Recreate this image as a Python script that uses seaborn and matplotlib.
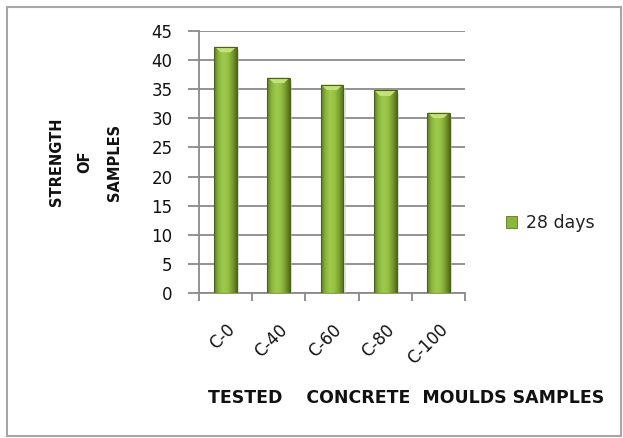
import numpy as np
import pandas as pd
import matplotlib
matplotlib.use("Agg")
import matplotlib.pyplot as plt
import seaborn as sns
from matplotlib.colors import LinearSegmentedColormap
from matplotlib.patches import Rectangle, Polygon

# Compressive strength of concrete mould samples at 28 days
samples = ["C-0", "C-40", "C-60", "C-80", "C-100"]
strength_28 = [42.3, 37.0, 35.8, 34.8, 31.0]
series_name = "28 days"
y_ticks = list(range(0, 50, 5))

sns.set_theme(style="white")
plt.rcParams["font.family"] = ["DejaVu Sans"]

W, H = 623, 438
fig = plt.figure(figsize=(W / 100, H / 100), dpi=100)
ax = fig.add_axes([199 / W, 145 / H, 266 / W, 262 / H])

df = pd.DataFrame({"sample": samples, "strength": strength_28})
sns.barplot(data=df, x="sample", y="strength", color="#8db43e", width=0.43,
            ax=ax, edgecolor="none", linewidth=0, zorder=3)

# cylinder-like shading across each bar
shade = LinearSegmentedColormap.from_list(
    "bar_shade", ["#5b7a22", "#8ab53c", "#9fcb4b", "#96c245", "#7a9e30", "#4f6b1b"])
grad = np.linspace(0, 1, 256).reshape(1, -1)
for p in list(ax.patches):
    x0, y0, w, h = p.get_x(), p.get_y(), p.get_width(), p.get_height()
    im = ax.imshow(grad, extent=[x0, x0 + w, y0, y0 + h], aspect="auto",
                   cmap=shade, zorder=3.1, interpolation="bilinear")
    im.set_clip_path(p)
    # soft shadow to the right
    ax.add_patch(Rectangle((x0 + w, y0), 0.04, h - 0.6, facecolor="#c8c8c8",
                           edgecolor="none", alpha=0.5, zorder=2.9))
    # bevelled top highlight
    ax.add_patch(Polygon([[x0 + 0.01, y0 + h], [x0 + w - 0.01, y0 + h],
                          [x0 + w * 0.72, y0 + h - 0.95], [x0 + w * 0.28, y0 + h - 0.95]],
                         closed=True, facecolor="#c4e27a", edgecolor="none", zorder=3.2))
    ax.add_patch(Rectangle((x0, y0), w, h, fill=False, edgecolor="#4a6318",
                           linewidth=0.8, zorder=3.3))

grid_c = "#8a8a8a"
ax.set_xlim(-0.5, len(samples) - 0.5)
ax.set_ylim(0, 45)
ax.set_yticks(y_ticks)
ax.set_yticklabels([str(t) for t in y_ticks], fontsize=12, color="#111111")
ax.yaxis.grid(True, color=grid_c, linewidth=1.3, zorder=1)
ax.set_axisbelow(True)

# ticks on category boundaries, labels at category centres
ax.set_xticks(np.arange(-0.5, len(samples), 1.0))
ax.set_xticklabels([""] * (len(samples) + 1))
ax.set_xticks(range(len(samples)), minor=True)
ax.set_xticklabels(samples, minor=True, rotation=45, ha="right", va="top",
                   rotation_mode="anchor", fontsize=12, color="#111111")
ax.tick_params(axis="x", which="major", direction="out", length=6, width=1.3,
               color=grid_c, bottom=True)
ax.tick_params(axis="x", which="minor", length=0, pad=20, bottom=True)
ax.tick_params(axis="y", direction="out", length=8, width=1.3, color=grid_c,
               pad=11, left=True)
for lbl in ax.get_xticklabels(minor=True):
    lbl.set_x(lbl.get_position()[0] - 0.14)

for s in ["top", "right"]:
    ax.spines[s].set_visible(False)
for s in ["left", "bottom"]:
    ax.spines[s].set_color(grid_c)
    ax.spines[s].set_linewidth(1.3)
ax.set_xlabel("")
ax.set_ylabel("")

# axis titles
for txt, xc in [("STRENGTH", 57), ("OF", 85), ("SAMPLES", 115)]:
    fig.text(xc / W, 1 - 162 / H, txt, rotation=90, ha="center", va="center",
             fontsize=10.5, fontweight="bold", color="#111111")
fig.text(406 / W, 1 - 398 / H, "TESTED    CONCRETE  MOULDS SAMPLES", ha="center",
         va="center", fontsize=12.5, fontweight="bold", color="#111111")

# legend
handle = Rectangle((0, 0), 1, 1, facecolor="#8db43e", edgecolor="#5b7a22", linewidth=0.6)
fig.legend([handle], [series_name], loc="center left",
           bbox_to_anchor=(490 / W, 1 - 223 / H), frameon=False, fontsize=12.5,
           handlelength=0.65, handleheight=0.65, handletextpad=0.5, labelcolor="#222222")

# outer chart border
fig.add_artist(Rectangle((7 / W, 2 / H), 614 / W, 429 / H, transform=fig.transFigure,
                         fill=False, edgecolor="#a6a6a6", linewidth=1.5))

fig.savefig("out.png", dpi=100)
